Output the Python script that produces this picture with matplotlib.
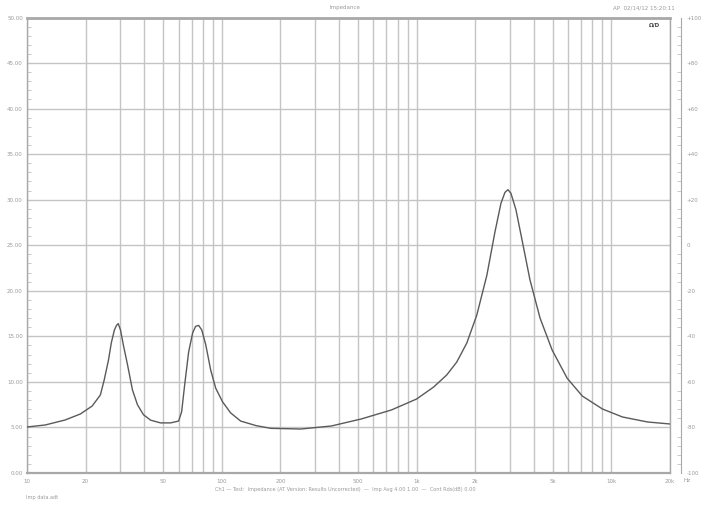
"""
Impedance sweep plot (Audio Precision style), 10 Hz .. 20 kHz.
"""
import numpy as np
import matplotlib
matplotlib.use("Agg")
import matplotlib.pyplot as plt
from matplotlib.ticker import FixedLocator, MultipleLocator, NullFormatter

freq_hz = [10, 12.4, 15.7, 18.8, 21.6, 23.8, 24.9, 26.2, 27.1, 28.1, 28.8, 29.4,
           30.2, 31.2, 32.8, 34.8, 36.9, 39.6, 43.1, 48.5, 54.6, 60.0, 62.2,
           64.5, 67.6, 70.9, 73.4, 76.1, 78.9, 82.7, 87.7, 93.1, 101, 111, 125,
           150, 179, 255, 365, 520, 743, 1000, 1224, 1428, 1608, 1811, 2038,
           2295, 2525, 2711, 2842, 2945, 3051, 3237, 3477, 3821, 4305, 4965,
           5931, 7092, 8990, 11400, 15340, 20000]
impedance_ohm = [5.05, 5.27, 5.82, 6.48, 7.35, 8.56, 10.2, 12.4, 14.3, 15.7, 16.2,
                 16.4, 15.7, 14.1, 11.9, 9.1, 7.5, 6.4, 5.8, 5.5, 5.5, 5.7, 6.7,
                 9.7, 13.3, 15.4, 16.1, 16.2, 15.7, 14.1, 11.3, 9.3, 7.8, 6.6,
                 5.7, 5.2, 4.9, 4.83, 5.16, 5.93, 6.92, 8.12, 9.44, 10.76, 12.18,
                 14.27, 17.34, 21.7, 26.45, 29.6, 30.8, 31.1, 30.7, 28.9, 25.6,
                 21.2, 17.0, 13.5, 10.4, 8.45, 7.03, 6.15, 5.6, 5.38]

x_ticks = [10, 20, 50, 100, 200, 500, 1000, 2000, 5000, 10000, 20000]
x_tick_labels = ["10", "20", "50", "100", "200", "500", "1k", "2k", "5k", "10k", "20k"]
y_left_ticks = [0, 5, 10, 15, 20, 25, 30, 35, 40, 45, 50]
y_right_ticks = [-100, -80, -60, -40, -20, 0, 20, 40, 60, 80, 100]

GRID = "#c4c4c4"
FRAME = "#a8a8a8"
TEXT = "#9a9a9a"


def main():
    fig = plt.figure(figsize=(7.05, 5.08), dpi=100)
    ax = fig.add_axes([27 / 705, 35 / 508, 643 / 705, 455.5 / 508])

    ax.semilogx(freq_hz, impedance_ohm, color="#5a5a5a", linewidth=1.0, zorder=3)

    ax.set_xlim(10, 20000)
    ax.set_ylim(0, 50)

    # log grid at every 1..9 multiple
    minor = [m * 10 ** d for d in range(1, 5) for m in range(1, 10) if m * 10 ** d <= 20000]
    ax.xaxis.set_major_locator(FixedLocator(x_ticks))
    ax.set_xticklabels(x_tick_labels)
    ax.xaxis.set_minor_locator(FixedLocator(minor))
    ax.xaxis.set_minor_formatter(NullFormatter())
    ax.set_yticks(y_left_ticks)
    ax.set_yticklabels([f"{v:.2f}" for v in y_left_ticks])
    ax.yaxis.set_minor_locator(MultipleLocator(1))

    ax.grid(True, which="both", axis="x", color=GRID, linewidth=1.0)
    ax.grid(True, which="major", axis="y", color=GRID, linewidth=1.0)
    ax.set_axisbelow(True)

    ax.tick_params(axis="x", which="both", length=0, labelsize=4, colors=TEXT, pad=4)
    ax.tick_params(axis="y", which="major", direction="in", length=0, labelsize=4,
                   colors=TEXT, pad=3)
    ax.tick_params(axis="y", which="minor", direction="in", length=3, color="#c0c0c0")

    for side, sp in ax.spines.items():
        sp.set_color(FRAME)
        sp.set_linewidth(1.0)
    ax.spines["top"].set_linewidth(2.0)
    ax.spines["bottom"].set_linewidth(1.6)

    # right axis, pushed out a little like the AP plots
    ax2 = ax.twinx()
    ax2.set_ylim(-100, 100)
    ax2.set_yticks(y_right_ticks)
    ax2.set_yticklabels([f"{v:+d}" if v else "0" for v in y_right_ticks])
    ax2.yaxis.set_minor_locator(MultipleLocator(4))
    ax2.spines["right"].set_position(("outward", 8))
    ax2.spines["right"].set_color(FRAME)
    for s in ("left", "top", "bottom"):
        ax2.spines[s].set_visible(False)
    ax2.tick_params(axis="y", which="major", direction="in", length=0, labelsize=4,
                    colors=TEXT, pad=4)
    ax2.tick_params(axis="y", which="minor", direction="in", length=3, color="#c0c0c0")

    # header / footer texts
    fig.text(345 / 705, 1 - 8 / 508, "Impedance", ha="center", va="center",
             fontsize=4, color=TEXT)
    fig.text(675 / 705, 1 - 8 / 508, "AP  02/14/12 15:20:11", ha="right", va="center",
             fontsize=4, color=TEXT)
    ax.text(0.985, 0.99, "Ω/D", transform=ax.transAxes, ha="right", va="top",
            fontsize=4, color="#444444", fontweight="bold")
    fig.text(684 / 705, 1 - 481 / 508, "Hz", ha="left", va="center", fontsize=4, color=TEXT)
    fig.text(345 / 705, 1 - 489 / 508,
             "Ch1 — Test:  Impedance (AT Version: Results Uncorrected)  —  "
             "Imp Avg 4.00 1.00  —  Cont Rds(dB) 0.00",
             ha="center", va="center", fontsize=3.6, color=TEXT)
    fig.text(26 / 705, 1 - 497 / 508, "Imp data.adt", ha="left", va="center",
             fontsize=3.6, color=TEXT)

    fig.savefig("out.png", dpi=100, facecolor="white")
    plt.close(fig)


if __name__ == "__main__":
    main()
